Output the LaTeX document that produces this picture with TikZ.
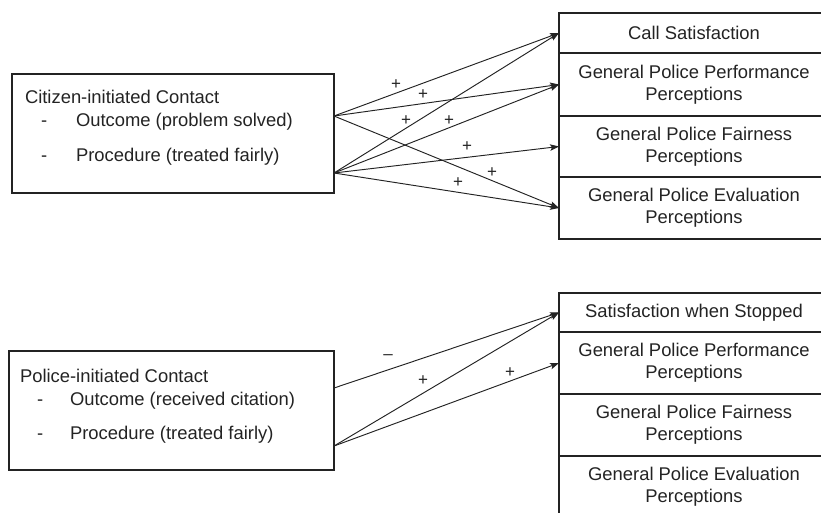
\documentclass[tikz,border=0pt]{standalone}
\usepackage{fontspec}
\setmainfont{Liberation Sans}
\usetikzlibrary{arrows.meta}
\definecolor{ink}{HTML}{232323}
\begin{document}
\begin{tikzpicture}[x=1pt,y=-1pt,
  every node/.style={inner sep=0pt,outer sep=0pt,text=ink},
  srcbox/.style={draw=ink,line width=1.3pt,anchor=north west},
  outbox/.style={draw=ink,line width=1.3pt,anchor=north west,minimum width=270pt,
    align=center,font=\fontsize{18.4}{21.6}\selectfont},
  txt/.style={anchor=base west,font=\fontsize{18.4}{21.6}\selectfont},
  sign/.style={font=\fontsize{17}{19}\selectfont},
  link/.style={draw=ink,line width=0.95pt,-{Stealth[length=9pt,width=6.5pt,inset=2pt]}}]
\useasboundingbox (0,0) rectangle (821,512);
\clip (0,0) rectangle (821,512);

% ---- citizen-initiated contact ----
\node[srcbox,minimum width=322pt,minimum height=119pt] (cit) at (12,74) {};
\node[txt] (citT) at (25,103.5) {Citizen-initiated Contact};
\node[txt] (citD1) at (41,126.5) {-};
\node[txt] (citO) at (76,126.5) {Outcome (problem solved)};
\node[txt] (citD2) at (41,161.5) {-};
\node[txt] (citP) at (76,161.5) {Procedure (treated fairly)};
\coordinate (citA) at (334,116);
\coordinate (citB) at (334,173);

\node[outbox,minimum height=40pt] (call) at (559,13) {Call Satisfaction};
\node[outbox,minimum height=63pt] (perfA) at (559,53) {General Police Performance\\Perceptions};
\node[outbox,minimum height=61pt] (fairA) at (559,116) {General Police Fairness\\Perceptions};
\node[outbox,minimum height=62pt] (evalA) at (559,177) {General Police Evaluation\\Perceptions};

\draw[link] (citA) -- (call.west);
\draw[link] (citA) -- (perfA.west);
\draw[link] (citA) -- (evalA.west);
\draw[link] (citB) -- (call.west);
\draw[link] (citB) -- (perfA.west);
\draw[link] (citB) -- (fairA.west);
\draw[link] (citB) -- (evalA.west);

\node[sign] (s1) at (396,85) {+};
\node[sign] (s2) at (423,95) {+};
\node[sign] (s3) at (406,121) {+};
\node[sign] (s4) at (449,121) {+};
\node[sign] (s5) at (467,147) {+};
\node[sign] (s6) at (492,173) {+};
\node[sign] (s7) at (458,183) {+};

% ---- police-initiated contact ----
\node[srcbox,minimum width=325pt,minimum height=119pt] (pol) at (9,351) {};
\node[txt] (polT) at (20,382) {Police-initiated Contact};
\node[txt] (polD1) at (37,405) {-};
\node[txt] (polO) at (70,405) {Outcome (received citation)};
\node[txt] (polD2) at (37,439.5) {-};
\node[txt] (polP) at (70,439.5) {Procedure (treated fairly)};
\coordinate (polA) at (334,388);
\coordinate (polB) at (334,446);

\node[outbox,minimum height=39pt] (stop) at (559,293) {Satisfaction when Stopped};
\node[outbox,minimum height=62pt] (perfB) at (559,332) {General Police Performance\\Perceptions};
\node[outbox,minimum height=62pt] (fairB) at (559,394) {General Police Fairness\\Perceptions};
\node[outbox,minimum height=62pt] (evalB) at (559,456) {General Police Evaluation\\Perceptions};

\draw[link] (polA) -- (stop.west);
\draw[link] (polB) -- (stop.west);
\draw[link] (polB) -- (perfB.west);

\node[sign] (s8) at (388,357) {--};
\node[sign] (s9) at (423,381) {+};
\node[sign] (s10) at (510,373) {+};
\end{tikzpicture}
\end{document}
